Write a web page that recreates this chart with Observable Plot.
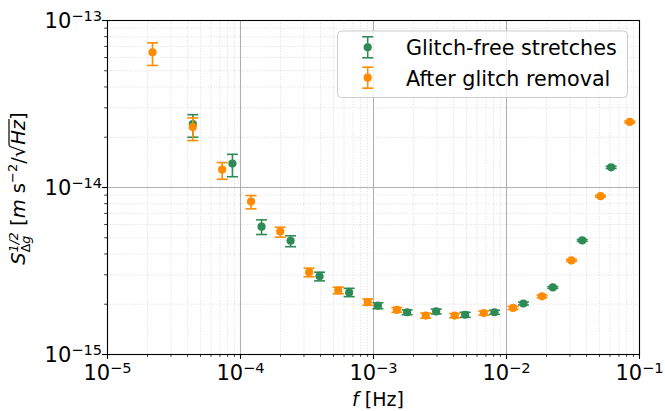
<!DOCTYPE html>
<html><head><meta charset="utf-8">
<script src="https://cdn.jsdelivr.net/npm/d3@7"></script>
<script src="https://cdn.jsdelivr.net/npm/@observablehq/plot@0.6"></script>
<style>body{margin:0;background:#fff;} svg{display:block;}</style>
</head><body><div id="chart"></div>
<script>
// ---- data ----
const seriesNames = ["Glitch-free stretches", "After glitch removal"];
const greenF  = [4.38e-5, 8.7e-5, 1.44e-4, 2.38e-4, 3.93e-4, 6.56e-4, 1.08e-3, 1.79e-3, 2.96e-3, 4.89e-3, 8.12e-3, 1.34e-2, 2.23e-2, 3.71e-2, 6.12e-2];
const greenS  = [2.40e-14, 1.39e-14, 5.83e-15, 4.80e-15, 2.94e-15, 2.35e-15, 1.96e-15, 1.79e-15, 1.81e-15, 1.73e-15, 1.79e-15, 2.02e-15, 2.52e-15, 4.82e-15, 1.32e-14];
const greenLo = [2.00e-14, 1.16e-14, 5.23e-15, 4.42e-15, 2.76e-15, 2.22e-15, 1.88e-15, 1.73e-15, 1.75e-15, 1.67e-15, 1.74e-15, 1.98e-15, 2.49e-15, 4.76e-15, 1.30e-14];
const greenHi = [2.73e-14, 1.58e-14, 6.40e-15, 5.14e-15, 3.11e-15, 2.49e-15, 2.04e-15, 1.85e-15, 1.87e-15, 1.79e-15, 1.84e-15, 2.06e-15, 2.55e-15, 4.88e-15, 1.34e-14];

const orangeF  = [2.18e-5, 4.38e-5, 7.28e-5, 1.20e-4, 1.99e-4, 3.28e-4, 5.43e-4, 9.05e-4, 1.50e-3, 2.47e-3, 4.08e-3, 6.75e-3, 1.12e-2, 1.85e-2, 3.08e-2, 5.09e-2, 8.45e-2];
const orangeS  = [6.45e-14, 2.30e-14, 1.28e-14, 8.24e-15, 5.45e-15, 3.11e-15, 2.42e-15, 2.06e-15, 1.85e-15, 1.71e-15, 1.71e-15, 1.77e-15, 1.90e-15, 2.23e-15, 3.66e-15, 8.87e-15, 2.47e-14];
const orangeLo = [5.38e-14, 1.91e-14, 1.12e-14, 7.45e-15, 5.04e-15, 2.92e-15, 2.31e-15, 1.97e-15, 1.79e-15, 1.65e-15, 1.66e-15, 1.72e-15, 1.86e-15, 2.19e-15, 3.61e-15, 8.76e-15, 2.44e-14];
const orangeHi = [7.35e-14, 2.61e-14, 1.41e-14, 8.95e-15, 5.78e-15, 3.29e-15, 2.53e-15, 2.15e-15, 1.91e-15, 1.77e-15, 1.76e-15, 1.82e-15, 1.94e-15, 2.27e-15, 3.71e-15, 8.98e-15, 2.50e-14];

const xTicks = [1e-5, 1e-4, 1e-3, 1e-2, 1e-1];
const yTicks = [1e-15, 1e-14, 1e-13];
const mantissas = [2, 3, 4, 5, 6, 7, 8, 9];

// ---- build tables ----
const GREEN = "#2e8b57", ORANGE = "#ff8c00";
const green = greenF.map((f, i) => ({f, s: greenS[i], lo: greenLo[i], hi: greenHi[i]}));
const orange = orangeF.map((f, i) => ({f, s: orangeS[i], lo: orangeLo[i], hi: orangeHi[i]}));
const xMinor = xTicks.slice(0, -1).flatMap(t => mantissas.map(m => m * t));
const yMinor = yTicks.slice(0, -1).flatMap(t => mantissas.map(m => m * t));
const expFmt = d => "10^" + Math.round(Math.log10(d));

const cap = {draw(ctx) { ctx.moveTo(-5.5, 0); ctx.lineTo(5.5, 0); }};
const errMarks = (data, color) => [
  Plot.ruleX(data, {x: "f", y1: "lo", y2: "hi", stroke: color, strokeWidth: 1.6}),
  Plot.dot(data, {x: "f", y: "lo", symbol: cap, stroke: color, strokeWidth: 1.6, fill: "none"}),
  Plot.dot(data, {x: "f", y: "hi", symbol: cap, stroke: color, strokeWidth: 1.6, fill: "none"}),
  Plot.dot(data, {x: "f", y: "s", r: 4.1, fill: color})
];

const chart = Plot.plot({
  width: 665, height: 411,
  marginLeft: 107, marginRight: 26, marginTop: 20, marginBottom: 57,
  style: {fontFamily: "DejaVu Sans", fontSize: "21px", color: "black", background: "white"},
  x: {type: "log", domain: [1e-5, 1e-1]},
  y: {type: "log", domain: [1e-15, 1e-13]},
  marks: [
    Plot.gridX(xMinor, {stroke: "#dadada", strokeOpacity: 1, strokeWidth: 0.8, strokeDasharray: "1.2,1.6"}),
    Plot.gridY(yMinor, {stroke: "#dadada", strokeOpacity: 1, strokeWidth: 0.8, strokeDasharray: "1.2,1.6"}),
    Plot.gridX(xTicks, {stroke: "#b0b0b0", strokeOpacity: 1, strokeWidth: 1.1}),
    Plot.gridY(yTicks, {stroke: "#b0b0b0", strokeOpacity: 1, strokeWidth: 1.1}),
    Plot.axisX(xMinor, {tickSize: 2.8, tickFormat: () => "", label: null, strokeWidth: 0.8}),
    Plot.axisY(yMinor, {tickSize: 2.8, tickFormat: () => "", label: null, strokeWidth: 0.8}),
    Plot.axisX(xTicks, {tickSize: 4.9, tickPadding: 0, tickFormat: expFmt, label: null, strokeWidth: 1.1}),
    Plot.axisY(yTicks, {tickSize: 4.9, tickPadding: 0.5, tickFormat: expFmt, label: null, strokeWidth: 1.1}),
    ...errMarks(green, GREEN),
    ...errMarks(orange, ORANGE),
    Plot.frame({stroke: "black", strokeWidth: 1.1})
  ]
});
document.getElementById("chart").appendChild(chart);

const svg = d3.select(chart);
// superscript tick labels
svg.selectAll("text").each(function() {
  const t = this.textContent;
  if (!t.startsWith("10^")) return;
  const isX = this.closest('[aria-label="x-axis tick label"]') !== null;
  const el = d3.select(this);
  el.text(null).attr("dy", null).attr("y", isX ? 21.1 : 7.7).attr("font-size", "21px");
  el.append("tspan").text("10");
  el.append("tspan").attr("font-size", "14.6px").attr("dy", isX ? -7 : -7.7).text(t.slice(3).replace("-", "\u2212"));
});

// x label
const xl = svg.append("text").attr("x", 378).attr("y", 406).attr("text-anchor", "middle")
  .attr("font-size", "19px").attr("fill", "black");
xl.append("tspan").attr("font-style", "italic").text("f");
xl.append("tspan").text(" [Hz]");

// y label
const yg = svg.append("g").attr("transform", "translate(25,188.5) rotate(-90)");
const yl = yg.append("text").attr("text-anchor", "middle").attr("font-size", "19.5px").attr("fill", "black");
yl.append("tspan").attr("font-style", "italic").text("S");
const s1 = yl.append("tspan").attr("font-size", "12.5px").attr("dy", 5).text("\u0394");
const s2 = yl.append("tspan").attr("font-size", "12.5px").attr("font-style", "italic").text("g");
const sup = yl.append("tspan").attr("font-size", "12.5px").attr("font-style", "italic").attr("dy", -12).text("1/2");
yl.append("tspan").attr("dy", 7).text(" [");
yl.append("tspan").attr("font-style", "italic").text("m");
yl.append("tspan").text(" s");
yl.append("tspan").attr("font-size", "13px").attr("dy", -8).text("\u22122");
yl.append("tspan").attr("dy", 8).text("/\u221A");
yl.append("tspan").attr("font-style", "italic").text("Hz");
yl.append("tspan").text("]");
const wsub = s1.node().getComputedTextLength() + s2.node().getComputedTextLength();
sup.attr("dx", -wsub);
try {
  const n = yl.node();
  const full = n.textContent;
  const iR = full.indexOf("\u221A"), iZ = full.indexOf("Hz") + 1;
  const x1 = n.getEndPositionOfChar(iR).x - 0.5, x2 = n.getEndPositionOfChar(iZ).x + 1;
  yg.append("line").attr("x1", x1).attr("x2", x2).attr("y1", -16).attr("y2", -16)
    .attr("stroke", "black").attr("stroke-width", 1.2);
} catch (e) {}

// legend
const lg = svg.append("g");
lg.append("rect").attr("x", 337.5).attr("y", 31).attr("width", 290).attr("height", 66.5).attr("rx", 4)
  .attr("fill", "white").attr("fill-opacity", 0.8).attr("stroke", "#cccccc").attr("stroke-width", 1);
[[GREEN, 47.3], [ORANGE, 77.7]].forEach(([c, y], i) => {
  lg.append("line").attr("x1", 367.7).attr("x2", 367.7).attr("y1", y - 10.5).attr("y2", y + 10.5).attr("stroke", c).attr("stroke-width", 1.6);
  lg.append("line").attr("x1", 362.2).attr("x2", 373.2).attr("y1", y - 10.5).attr("y2", y - 10.5).attr("stroke", c).attr("stroke-width", 1.6);
  lg.append("line").attr("x1", 362.2).attr("x2", 373.2).attr("y1", y + 10.5).attr("y2", y + 10.5).attr("stroke", c).attr("stroke-width", 1.6);
  lg.append("circle").attr("cx", 367.7).attr("cy", y).attr("r", 4.1).attr("fill", c);
  lg.append("text").attr("x", 406).attr("y", y + 8).attr("text-anchor", "start").attr("font-size", "20.7px").attr("fill", "black").text(seriesNames[i]);
});
</script>
</body></html>
